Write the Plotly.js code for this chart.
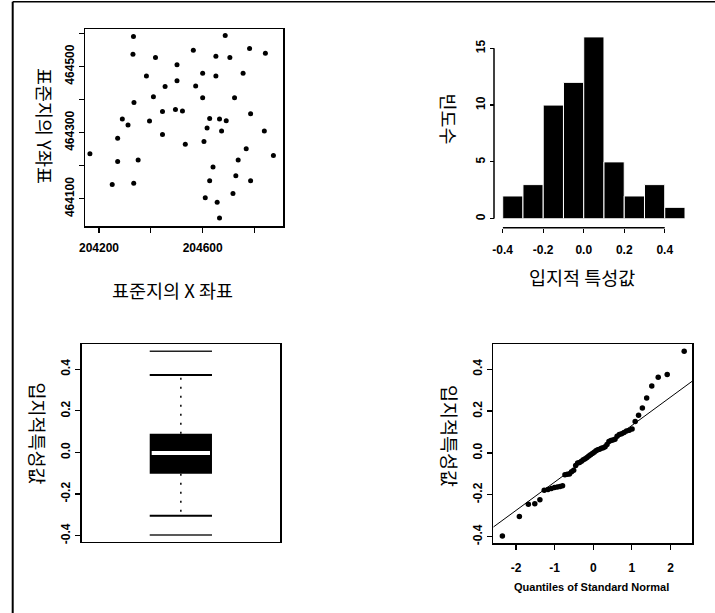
<!DOCTYPE html>
<html><head><meta charset="utf-8">
<script src="https://cdn.plot.ly/plotly-3.0.1.min.js"></script>
<style>html,body{margin:0;padding:0;background:#fff}#chart{width:715px;height:613px}</style>
</head><body><div id="chart"></div>
<script>
// ---- data: stand coordinates (scatter) ----
const standX = [204165,204251,204272,204272,204290,204312,204333,204331,204335,204334,204351,204383,204395,204410,204418,204445,204445,204455,204495,204501,204501,204522,204533,204564,204573,204600,204600,204605,204610,204617,204627,204627,204640,204651,204651,204656,204665,204665,204673,204687,204691,204705,204717,204723,204728,204737,204756,204768,204781,204785,204785,204838,204842,204873];
const standY = [464236,464143,464213,464283,464341,464323,464590,464537,464391,464147,464217,464471,464335,464408,464527,464364,464294,464439,464370,464505,464457,464365,464265,464549,464441,464479,464405,464273,464103,464314,464343,464155,464196,464531,464471,464090,464341,464042,464305,464593,464336,464527,464116,464405,464170,464217,464479,464251,464554,464357,464155,464305,464540,464231];
const scatterXTicks = [204200,204400,204600,204800];
const scatterXTickText = ["204200","","204600",""];
const scatterYTicks = [464100,464200,464300,464400,464500,464600];
const scatterYTickText = ["464100","","464300","","464500",""];

// ---- data: histogram ----
const histBinCenters = [-0.35,-0.25,-0.15,-0.05,0.05,0.15,0.25,0.35,0.45];
const histCounts = [2,3,10,12,16,5,2,3,1];
const histBinWidth = 0.1;
const histXTicks = [-0.4,-0.2,0.0,0.2,0.4];
const histXTickText = ["-0.4","-0.2","0.0","0.2","0.4"];
const histYTicks = [0,5,10,15];

// ---- data: boxplot ----
const boxQ1 = -0.102;
const boxMedian = -0.002;
const boxQ3 = 0.090;
const boxWhiskerLow = -0.304;
const boxWhiskerHigh = 0.372;
const boxOutliers = [-0.397, 0.486];
const valueTicks = [-0.4,-0.2,0.0,0.2,0.4];
const valueTickText = ["-0.4","-0.2","0.0","0.2","0.4"];

// ---- data: normal QQ plot ----
const qqTheoretical = [-2.355,-1.915,-1.682,-1.515,-1.383,-1.271,-1.173,-1.085,-1.005,-0.931,-0.861,-0.796,-0.734,-0.674,-0.617,-0.562,-0.508,-0.456,-0.405,-0.355,-0.306,-0.258,-0.210,-0.163,-0.116,-0.070,-0.023,0.023,0.070,0.116,0.163,0.210,0.258,0.306,0.355,0.405,0.456,0.508,0.562,0.617,0.674,0.734,0.796,0.861,0.931,1.005,1.085,1.173,1.271,1.383,1.515,1.682,1.915,2.355];
const qqSample = [-0.397,-0.304,-0.245,-0.242,-0.224,-0.178,-0.175,-0.170,-0.165,-0.162,-0.160,-0.157,-0.104,-0.102,-0.101,-0.090,-0.082,-0.060,-0.048,-0.045,-0.040,-0.032,-0.028,-0.022,-0.015,-0.008,-0.003,0.003,0.010,0.015,0.018,0.022,0.025,0.030,0.040,0.055,0.060,0.062,0.065,0.080,0.088,0.092,0.098,0.105,0.108,0.115,0.150,0.180,0.215,0.262,0.320,0.362,0.375,0.486];
const qqLineX = [-2.59, 2.565];
const qqLineY = [-0.354, 0.343];
const qqXTicks = [-2,-1,0,1,2];
const qqXTickText = ["-2","-1","0","1","2"];

// ---- layout helpers (pixel -> paper) ----
const W = 715, H = 613;
const px = v => v / W;
const py = v => 1 - v / H;
const dx = (a, b) => [px(a), px(b)];
const dy = (top, bottom) => [py(bottom), py(top)];

const tickFont = {family: "Liberation Sans, Arial, sans-serif", size: 12, weight: "bold", color: "#000"};
const korFont = {family: "Noto Sans CJK KR, sans-serif", size: 18.5, color: "#000"};

const frameAxis = {showline: true, linecolor: "#000", linewidth: 1.5, mirror: true, ticks: "outside",
  ticklen: 5, tickwidth: 1.2, tickcolor: "#000", showgrid: false, zeroline: false, tickfont: tickFont};

const boxHalf = 0.314;

const traces = [
  {type: "scatter", mode: "markers", x: standX, y: standY, xaxis: "x", yaxis: "y",
   marker: {color: "#000", size: 5}},
  {type: "bar", x: histBinCenters, y: histCounts, width: histBinWidth, xaxis: "x2", yaxis: "y2",
   marker: {color: "#000", line: {color: "#fff", width: 1}}},
  // boxplot
  {type: "bar", x: [0], base: [boxQ1], y: [boxQ3 - boxQ1], width: [2 * boxHalf], xaxis: "x3", yaxis: "y3",
   marker: {color: "#000", line: {width: 0}}},
  {type: "scatter", mode: "lines", x: [-boxHalf + 0.02, boxHalf - 0.02], y: [boxMedian, boxMedian],
   xaxis: "x3", yaxis: "y3", line: {color: "#fff", width: 4}},
  {type: "scatter", mode: "lines", x: [0, 0, null, 0, 0], y: [boxQ3, boxWhiskerHigh, null, boxQ1, boxWhiskerLow],
   xaxis: "x3", yaxis: "y3", line: {color: "#000", width: 1.5, dash: "2px,7px"}},
  {type: "scatter", mode: "lines", x: [-boxHalf, boxHalf, null, -boxHalf, boxHalf],
   y: [boxWhiskerHigh, boxWhiskerHigh, null, boxWhiskerLow, boxWhiskerLow],
   xaxis: "x3", yaxis: "y3", line: {color: "#000", width: 2}},
  {type: "scatter", mode: "lines", x: [-boxHalf, boxHalf, null, -boxHalf, boxHalf],
   y: [boxOutliers[0], boxOutliers[0], null, boxOutliers[1], boxOutliers[1]],
   xaxis: "x3", yaxis: "y3", line: {color: "#222", width: 1.5}},
  // QQ
  {type: "scatter", mode: "lines", x: qqLineX, y: qqLineY, xaxis: "x4", yaxis: "y4",
   line: {color: "#000", width: 1}},
  {type: "scatter", mode: "markers", x: qqTheoretical, y: qqSample, xaxis: "x4", yaxis: "y4",
   marker: {color: "#000", size: 5.5}}
];

const layout = {
  width: W, height: H, margin: {l: 0, r: 0, t: 0, b: 0}, showlegend: false,
  paper_bgcolor: "#fff", plot_bgcolor: "#fff",
  xaxis: Object.assign({}, frameAxis, {domain: dx(85, 283), range: [204146, 204910],
    tickvals: scatterXTicks, ticktext: scatterXTickText, anchor: "y", ticklabelstandoff: 5}),
  yaxis: Object.assign({}, frameAxis, {domain: dy(29, 226), range: [464018, 464613],
    tickvals: scatterYTicks, ticktext: scatterYTickText, tickangle: -90, anchor: "x"}),
  xaxis2: {domain: dx(502.7, 685), range: [-0.4, 0.5], anchor: "free", position: py(227.7),
    showline: false, showgrid: false, zeroline: false, ticks: "outside", ticklen: 4, tickwidth: 1.2,
    tickcolor: "#000", tickvals: histXTicks, ticktext: histXTickText, tickfont: tickFont, ticklabelstandoff: 7},
  yaxis2: {domain: dy(36, 218.7), range: [0, 16.08], anchor: "free", position: px(494),
    showline: false, showgrid: false, zeroline: false, ticks: "outside", ticklen: 4, tickwidth: 1.2,
    tickcolor: "#000", tickvals: histYTicks, tickangle: -90, tickfont: tickFont},
  xaxis3: Object.assign({}, frameAxis, {domain: dx(81.7, 280), range: [-1, 1], ticks: "",
    showticklabels: false, anchor: "y3"}),
  yaxis3: Object.assign({}, frameAxis, {domain: dy(344.3, 541.7), range: [-0.429, 0.52],
    tickvals: valueTicks, ticktext: valueTickText, tickangle: -90, anchor: "x3"}),
  xaxis4: Object.assign({}, frameAxis, {domain: dx(493.3, 692.3), range: [-2.59, 2.565],
    tickvals: qqXTicks, ticktext: qqXTickText, anchor: "y4", ticklabelstandoff: 8}),
  yaxis4: Object.assign({}, frameAxis, {domain: dy(344.3, 543.3), range: [-0.4315, 0.519],
    tickvals: valueTicks, ticktext: valueTickText, tickangle: -90, anchor: "x4"}),
  shapes: [
    {type: "line", xref: "paper", yref: "paper", x0: px(12.7), x1: px(12.7), y0: py(1.7), y1: 0,
     line: {color: "#000", width: 2}},
    {type: "line", xref: "paper", yref: "paper", x0: px(12.7), x1: 1, y0: py(1.7), y1: py(1.7),
     line: {color: "#000", width: 1.5}},
    {type: "line", xref: "paper", yref: "y2", x0: px(494), x1: px(494),
     y0: histYTicks[0], y1: histYTicks[histYTicks.length - 1], line: {color: "#000", width: 1.5}},
    {type: "line", xref: "x2", yref: "paper", x0: histXTicks[0], x1: histXTicks[histXTicks.length - 1],
     y0: py(227.7), y1: py(227.7), line: {color: "#000", width: 1.5}}
  ],
  annotations: [
    {text: "표준지의 X 좌표", x: px(172.5), y: py(290), font: korFont},
    {text: "표준지의 Y좌표", x: px(45), y: py(126), textangle: 90, font: korFont},
    {text: "입지적 특성값", x: px(581.5), y: py(276.7), font: korFont},
    {text: "빈도수", x: px(448), y: py(118.5), textangle: 90, font: korFont},
    {text: "입지적특성값", x: px(38), y: py(433.5), textangle: 90, font: korFont},
    {text: "입지적특성값", x: px(450), y: py(436), textangle: 90, font: korFont},
    {text: "Quantiles of Standard Normal", x: px(591.5), y: py(586.7),
     font: {family: "Liberation Sans, Arial, sans-serif", size: 11, weight: "bold", color: "#000"}}
  ].map(a => Object.assign({xref: "paper", yref: "paper", showarrow: false, xanchor: "center", yanchor: "middle"}, a))
};

Plotly.newPlot("chart", traces, layout, {staticPlot: true, displayModeBar: false});
</script>
</body></html>
